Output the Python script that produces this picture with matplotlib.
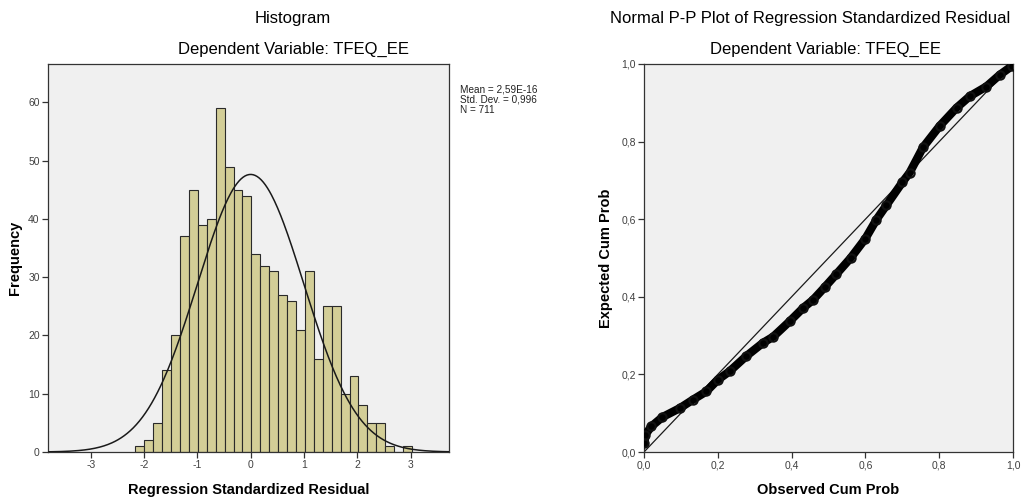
import numpy as np
import matplotlib
matplotlib.use("Agg")
import matplotlib.pyplot as plt

plt.rcParams['font.family'] = ['Liberation Sans', 'DejaVu Sans']
plt.rcParams['axes.unicode_minus'] = False

# histogram of regression standardized residuals
bin_start = -2.161
bin_width = 0.1673
counts = [1, 2, 5, 14, 20, 37, 45, 39, 40, 59, 49, 45, 44, 34, 32, 31,
          27, 26, 21, 31, 16, 25, 25, 10, 13, 8, 5, 5, 1, 0, 1]
res_mean = 2.59e-16
res_sd = 0.996
n_obs = 711
hist_xticks = [-3, -2, -1, 0, 1, 2, 3]
hist_yticks = [0, 10, 20, 30, 40, 50, 60]

# P-P plot points (observed vs expected cumulative probability)
obs_cum = [0.001, 0.004, 0.02, 0.05, 0.097, 0.133, 0.169, 0.2, 0.232, 0.277,
           0.322, 0.35, 0.395, 0.431, 0.458, 0.49, 0.521, 0.56, 0.6, 0.63,
           0.657, 0.70, 0.72, 0.756, 0.801, 0.847, 0.883, 0.928, 0.964, 0.996]
exp_cum = [0.022, 0.045, 0.066, 0.09, 0.113, 0.135, 0.156, 0.186, 0.208, 0.247,
           0.281, 0.297, 0.337, 0.371, 0.392, 0.425, 0.458, 0.500, 0.55, 0.599,
           0.636, 0.695, 0.72, 0.785, 0.840, 0.887, 0.917, 0.942, 0.972, 0.994]
pp_ticks = [0.0, 0.2, 0.4, 0.6, 0.8, 1.0]

W, H = 1021, 501
fig = plt.figure(figsize=(W / 100, H / 100), dpi=100)
bg = '#f0f0f0'
bar_col = '#d3ce97'
spine_col = '#333333'
tick_col = '#404040'


def style_axes(ax):
    ax.set_facecolor(bg)
    for s in ax.spines.values():
        s.set_color(spine_col)
        s.set_linewidth(0.9)
    ax.tick_params(direction='out', length=4, width=0.9, color=spine_col,
                   labelsize=7.5, labelcolor=tick_col, top=False, right=False, pad=2)


def comma(v, fmt):
    return (fmt % v).replace('.', ',')


# ---- Histogram ----
ax1 = fig.add_axes([48 / W, (H - 452) / H, 401 / W, 388 / H])
style_axes(ax1)
edges = bin_start + bin_width * np.arange(len(counts) + 1)
ax1.bar(edges[:-1], counts, width=bin_width, align='edge', color=bar_col,
        edgecolor='#2a2a2a', linewidth=0.8, zorder=2)
xs = np.linspace(-3.8, 3.8, 400)
curve = n_obs * bin_width * np.exp(-0.5 * ((xs - res_mean) / res_sd) ** 2) / (res_sd * np.sqrt(2 * np.pi))
ax1.plot(xs, curve, color='#1a1a1a', lw=1.1, zorder=3)
ax1.set_xlim(-3.8, 3.72)
ax1.set_ylim(0, 66.6)
ax1.set_xticks(hist_xticks)
ax1.set_yticks(hist_yticks)
ax1.set_xlabel('Regression Standardized Residual', fontsize=10.5, fontweight='bold')
ax1.set_ylabel('Frequency', fontsize=10.5, fontweight='bold')
ax1.xaxis.set_label_coords(0.5, -(490 - 452) / 388)
ax1.yaxis.set_label_coords((15 - 48) / 401, 0.5)
ax1.xaxis.label.set_verticalalignment('center')
ax1.yaxis.label.set_verticalalignment('center')

stats = 'Mean = %s\nStd. Dev. = %s\nN = %d' % ('2,59E-16', comma(res_sd, '%.3f'), n_obs)
fig.text(460 / W, 1 - 85 / H, stats, fontsize=7.2, va='top', ha='left',
         color='#222222', linespacing=1.0)

fig.text(293 / W, 1 - 19 / H, 'Histogram', fontsize=12, ha='center', va='center')
fig.text(293 / W, 1 - 49 / H, 'Dependent Variable: TFEQ_EE', fontsize=12,
         ha='center', va='center')

# ---- P-P plot ----
ax2 = fig.add_axes([644 / W, (H - 452) / H, 369 / W, 388 / H])
style_axes(ax2)
ax2.plot([0, 1], [0, 1], color='#1a1a1a', lw=0.9, zorder=2)
ax2.plot(obs_cum, exp_cum, color='black', lw=6, solid_capstyle='round',
         solid_joinstyle='round', zorder=3)
ax2.plot(obs_cum, exp_cum, 'o', ms=6, mfc='none', mec='#111111', mew=1.5, zorder=4)
ax2.set_xlim(0, 1)
ax2.set_ylim(0, 1)
ax2.set_xticks(pp_ticks)
ax2.set_yticks(pp_ticks)
ax2.set_xticklabels([comma(t, '%.1f') for t in pp_ticks])
ax2.set_yticklabels([comma(t, '%.1f') for t in pp_ticks])
ax2.set_xlabel('Observed Cum Prob', fontsize=10.5, fontweight='bold')
ax2.set_ylabel('Expected Cum Prob', fontsize=10.5, fontweight='bold')
ax2.xaxis.set_label_coords(0.5, -(490 - 452) / 388)
ax2.yaxis.set_label_coords((606 - 644) / 369, 0.5)
ax2.xaxis.label.set_verticalalignment('center')
ax2.yaxis.label.set_verticalalignment('center')

fig.text(810 / W, 1 - 19 / H, 'Normal P-P Plot of Regression Standardized Residual',
         fontsize=12, ha='center', va='center')
fig.text(825 / W, 1 - 49 / H, 'Dependent Variable: TFEQ_EE', fontsize=12,
         ha='center', va='center')

fig.savefig('out.png', dpi=100, facecolor='white')
